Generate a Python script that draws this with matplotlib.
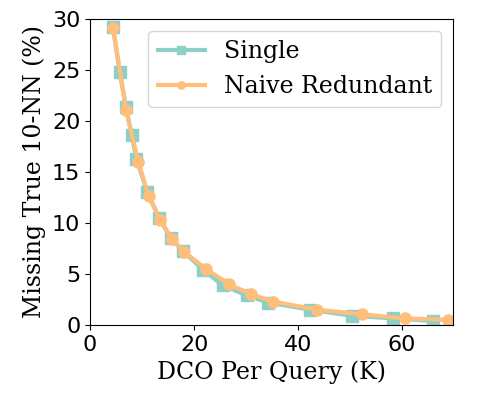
import matplotlib
matplotlib.use("Agg")
import matplotlib.pyplot as plt

# Data (x in K DCO per query, y in % missing)
single_x = [4.4, 5.7, 6.9, 8.0, 8.9, 11.0, 13.3, 15.5, 17.8, 21.7, 25.5, 30.1, 34.2, 42.3, 50.3, 58.2, 65.9]
single_y = [29.2, 24.8, 21.4, 18.6, 16.3, 13.0, 10.5, 8.5, 7.3, 5.4, 3.9, 2.9, 2.2, 1.5, 0.9, 0.65, 0.4]

naive_x = [4.45, 6.9, 9.3, 11.3, 13.5, 15.8, 18.0, 22.25, 26.7, 31.0, 35.2, 43.6, 52.2, 60.5, 68.85]
naive_y = [29.1, 21.1, 15.95, 12.6, 10.3, 8.4, 7.2, 5.5, 4.0, 3.0, 2.3, 1.5, 1.05, 0.65, 0.5]

y_ticks = [0, 5, 10, 15, 20, 25, 30]
x_ticks = [0, 20, 40, 60]

fig = plt.figure(figsize=(4.79, 3.99), dpi=100)
ax = fig.add_axes([0.188, 0.1855, 0.758, 0.767])

ax.plot(single_x, single_y, color="#8ECFC9", marker="s", markersize=8, linewidth=3, label="Single")
ax.plot(naive_x, naive_y, color="#FFBE7A", marker="o", markersize=8, linewidth=3, label="Naive Redundant")

ax.set_xlim(0, 69.8)
ax.set_ylim(0, 30)
ax.set_xticks(x_ticks)
ax.set_yticks(y_ticks)
ax.tick_params(labelsize=16)

ax.set_xlabel("DCO Per Query (K)", family="DejaVu Serif", fontsize=17)
ax.set_ylabel("Missing True 10-NN (%)", family="DejaVu Serif", fontsize=17)

ax.legend(loc="upper right", prop={"family": "DejaVu Serif", "size": 17}, markerscale=0.65)

fig.savefig("out.png", dpi=100)
